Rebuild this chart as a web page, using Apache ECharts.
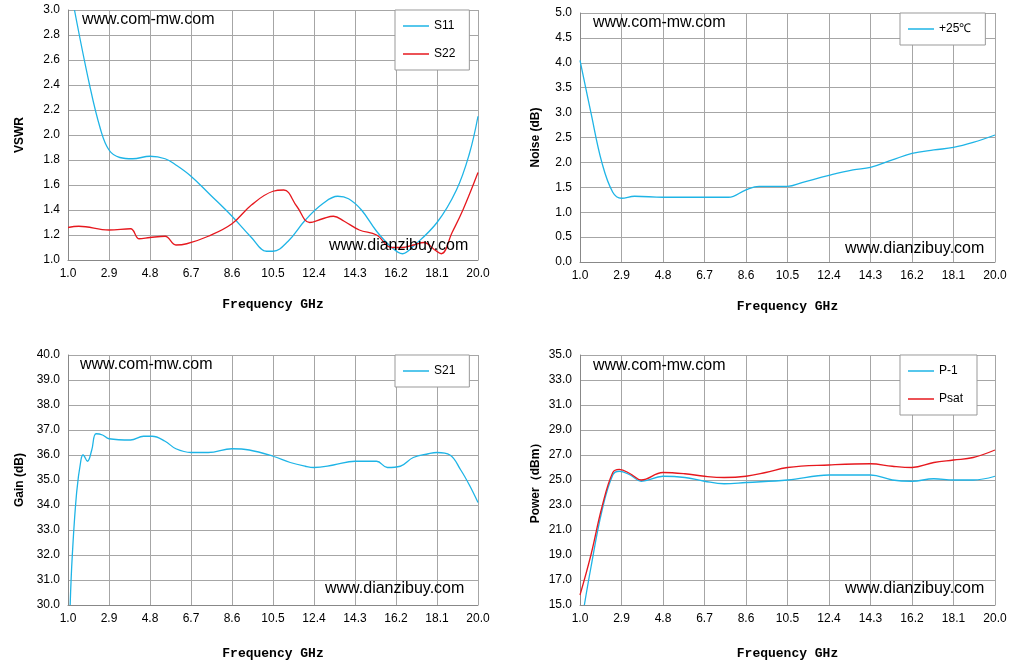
<!DOCTYPE html>
<html><head><meta charset="utf-8">
<script src="https://cdn.jsdelivr.net/npm/echarts@6/dist/echarts.min.js"></script>
<style>html,body{margin:0;padding:0;background:#fff}#main{width:1012px;height:668px}</style>
</head><body><div id="main"></div>
<script>
// frequency GHz / value pairs
var s11 = [[1.3,3.0],[2.0,2.4],[2.5,2.05],[2.9,1.88],[3.4,1.82],[4.0,1.81],[4.8,1.83],[5.5,1.81],[6.0,1.76],[6.7,1.67],[7.6,1.52],[8.6,1.35],[9.5,1.18],[10.2,1.07],[10.5,1.07],[11.2,1.15],[12.0,1.32],[12.8,1.45],[13.5,1.51],[14.0,1.49],[14.6,1.40],[15.3,1.23],[16.0,1.10],[16.5,1.05],[17.0,1.11],[18.1,1.30],[19.0,1.56],[19.6,1.85],[20.0,2.15]];
var s22 = [[1.0,1.26],[1.5,1.27],[2.9,1.24],[3.9,1.25],[4.3,1.17],[4.8,1.18],[5.5,1.19],[6.0,1.12],[6.5,1.13],[7.5,1.19],[8.6,1.29],[9.5,1.44],[10.5,1.55],[11.0,1.56],[11.6,1.43],[12.2,1.30],[12.8,1.33],[13.3,1.35],[13.8,1.31],[14.5,1.24],[15.3,1.20],[16.0,1.10],[16.5,1.10],[17.0,1.12],[17.5,1.14],[18.0,1.08],[18.3,1.05],[18.8,1.22],[19.3,1.40],[20.0,1.70]];
var noise = [[1.0,4.05],[1.5,3.0],[2.0,2.0],[2.5,1.4],[2.9,1.28],[3.5,1.32],[4.8,1.30],[6.0,1.30],[7.0,1.30],[7.8,1.30],[8.6,1.45],[9.2,1.52],[10.5,1.52],[11.2,1.6],[12.4,1.74],[13.5,1.85],[14.3,1.90],[15.3,2.05],[16.2,2.18],[17.2,2.25],[18.1,2.30],[19.0,2.40],[20.0,2.55]];
var s21 = [[1.1,30.0],[1.2,32],[1.4,34.5],[1.6,35.8],[1.7,36.0],[1.9,35.75],[2.1,36.2],[2.3,36.85],[2.6,36.8],[2.9,36.65],[3.9,36.6],[4.5,36.75],[4.9,36.75],[5.5,36.55],[6.0,36.25],[6.7,36.1],[7.5,36.1],[8.6,36.25],[9.4,36.2],[10.5,35.95],[11.3,35.7],[12.0,35.55],[12.4,35.5],[13.3,35.6],[14.3,35.75],[15.3,35.75],[15.8,35.5],[16.4,35.55],[17.0,35.9],[17.7,36.05],[18.1,36.1],[18.7,36.0],[19.2,35.4],[19.6,34.8],[20.0,34.1]];
var p1 = [[1.2,15.0],[1.5,18],[2.0,22.5],[2.5,25.4],[2.8,25.7],[3.3,25.4],[3.8,24.9],[4.8,25.3],[5.8,25.2],[6.7,24.9],[7.6,24.7],[8.6,24.8],[10.5,25.0],[12.4,25.4],[14.3,25.4],[15.3,25.0],[16.2,24.9],[17.2,25.1],[18.1,25.0],[19.0,25.0],[20.0,25.3]];
var psat = [[1.0,15.8],[1.5,19],[2.0,22.8],[2.5,25.6],[2.8,25.85],[3.3,25.5],[3.8,25.0],[4.8,25.6],[5.8,25.5],[6.7,25.3],[7.6,25.2],[8.6,25.3],[9.5,25.6],[10.5,26.0],[12.4,26.2],[14.3,26.3],[15.3,26.1],[16.2,26.0],[17.2,26.4],[18.1,26.6],[19.0,26.8],[20.0,27.4]];

var BLUE = '#1eb4e6', RED = '#e6181e';
var grids = [
  {left:68, top:10, width:410, height:250},
  {left:580, top:13, width:415, height:249},
  {left:68, top:355, width:410, height:250},
  {left:580, top:355, width:415, height:250}
];
var yCfg = [
  {min:1, max:3, interval:0.2, name:'VSWR', d:1},
  {min:0, max:5, interval:0.5, name:'Noise (dB)', d:1},
  {min:30, max:40, interval:1, name:'Gain (dB)', d:1},
  {min:15, max:35, interval:2, name:'Power\uff08dBm\uff09', d:1}
];
var lab = {color:'#000', fontSize:12, fontFamily:'Liberation Sans'};
var split = {show:true, lineStyle:{color:'#a6a6a6', width:1}};
var xAxes = grids.map(function(g,i){
  // axis runs 0..19 so ticks land on 1.0, 2.9, ... 20.0
  return {type:'value', gridIndex:i, min:0, max:19, interval:1.9,
    axisLine:{lineStyle:{color:'#888'}}, axisTick:{show:false}, splitLine:split,
    axisLabel:Object.assign({formatter:function(v){return (v+1).toFixed(1);}, margin:8}, lab),
    name:'Frequency GHz', nameLocation:'middle', nameGap:i<2?38:42,
    nameTextStyle:{fontFamily:'Liberation Mono', fontWeight:'bold', fontSize:13, color:'#000'}};
});
var yAxes = yCfg.map(function(c,i){
  return {type:'value', gridIndex:i, min:c.min, max:c.max, interval:c.interval,
    axisLine:{show:true, lineStyle:{color:'#888'}}, axisTick:{show:false}, splitLine:split,
    axisLabel:Object.assign({formatter:function(v){return v.toFixed(c.d);}}, lab),
    name:c.name, nameLocation:'middle', nameGap:i%2?38:42,
    nameTextStyle:{fontFamily:'Liberation Sans', fontWeight:'bold', fontSize:12, color:'#000'}};
});
function shift(a){ return a.map(function(p){return [p[0]-1,p[1]];}); }
function line(name, data, color, i){
  return {name:name, type:'line', xAxisIndex:i, yAxisIndex:i, data:shift(data), smooth:0.4,
    showSymbol:false, lineStyle:{color:color, width:1.3}, itemStyle:{color:color}};
}
function legend(names, left, top, w, h){
  return {data:names, orient:'vertical', left:left, top:top, width:w, height:h,
    backgroundColor:'#fff', borderColor:'#999', borderWidth:1, padding:[10,14,10,8], itemGap:16,
    icon:'rect', itemWidth:26, itemHeight:1.5, textStyle:lab};
}
function txt(x,y,t){ return {type:'text', left:x, top:y, z:10, style:{text:t, font:'16px "Liberation Sans"', fill:'#000'}}; }

var chart = echarts.init(document.getElementById('main'));
chart.setOption({
  animation:false,
  grid:grids,
  xAxis:xAxes,
  yAxis:yAxes,
  legend:[legend(['S11','S22'],395,10,83,60), legend(['+25\u2103'],900,13,95,42),
          legend(['S21'],395,355,83,35), legend(['P-1','Psat'],900,355,95,60)],
  series:[line('S11',s11,BLUE,0), line('S22',s22,RED,0), line('+25\u2103',noise,BLUE,1),
          line('S21',s21,BLUE,2), line('P-1',p1,BLUE,3), line('Psat',psat,RED,3)],
  graphic:[txt(82,12,'www.com-mw.com'), txt(593,15,'www.com-mw.com'), txt(80,357,'www.com-mw.com'), txt(593,358,'www.com-mw.com'),
           txt(329,238,'www.dianzibuy.com'), txt(845,241,'www.dianzibuy.com'), txt(325,581,'www.dianzibuy.com'), txt(845,581,'www.dianzibuy.com')]
});
</script></body></html>
